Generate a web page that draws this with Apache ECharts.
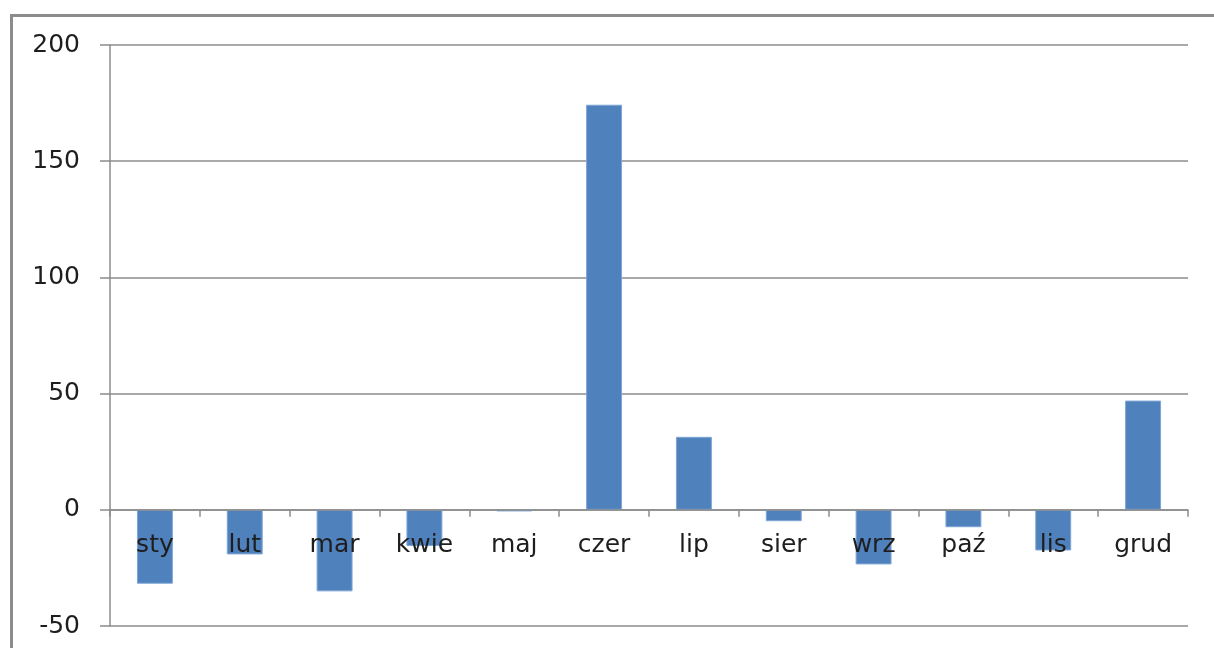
<!DOCTYPE html>
<html>
<head>
<meta charset="utf-8">
<script src="https://cdn.jsdelivr.net/npm/echarts@6/dist/echarts.min.js"></script>
<style>
html, body { margin: 0; padding: 0; background: #fff; overflow: hidden; }
#frame {
  position: absolute;
  left: 10px;
  top: 14px;
  width: 1230px;
  height: 700px;
  border: 3px solid #8c8c8c;
  box-sizing: border-box;
}
#myChart { position: absolute; left: 0; top: 0; width: 1214px; height: 648px; }
</style>
</head>
<body>
<div id="frame"></div>
<div id="myChart"></div>
<script>
// miesiace
const months = ['sty', 'lut', 'mar', 'kwie', 'maj', 'czer', 'lip', 'sier', 'wrz', 'paź', 'lis', 'grud']
// wartosci
const values = [-31.8, -19.2, -35.1, -15.6, -0.7, 174.3, 31.4, -4.9, -23.5, -7.5, -17.5, 47.0]
const yTicks = [-50, 0, 50, 100, 150, 200]

let myChart = echarts.init(document.getElementById('myChart'))
let lineColor = '#8c8c8c'
let labelFont = 'DejaVu Sans'
// os X lezy na zerze: 581 px na 250 jednostek, zero 115 px nad dolem
let gridHeight = 581
let zeroOffset = -gridHeight * (0 - yTicks[0]) / (yTicks[yTicks.length - 1] - yTicks[0])
let option = {
  animation: false,
  grid: { left: 110, right: 26, top: 45, bottom: 22, outerBoundsMode: 'none', containLabel: false },
  xAxis: {
    type: 'category',
    data: months,
    position: 'bottom',
    offset: zeroOffset,
    z: 10,
    axisLine: { onZero: false, lineStyle: { color: lineColor, width: 1.5 } },
    axisTick: { show: true, length: 7, alignWithLabel: false, lineStyle: { color: lineColor, width: 1.5 } },
    axisLabel: { margin: 23, fontSize: 25, color: '#1e1e1e', fontFamily: labelFont }
  },
  yAxis: {
    type: 'value',
    min: yTicks[0],
    max: yTicks[yTicks.length - 1],
    interval: 50,
    z: 0,
    axisLine: { show: true, lineStyle: { color: lineColor, width: 1.5 } },
    axisTick: { show: true, length: 10, lineStyle: { color: lineColor, width: 1.5 } },
    splitLine: { show: true, lineStyle: { color: lineColor, width: 1.5 } },
    axisLabel: { margin: 30, fontSize: 25, color: '#1e1e1e', fontFamily: labelFont }
  },
  series: [
    {
      type: 'bar',
      data: values,
      barWidth: '40%',
      z: 2,
      itemStyle: { color: '#4f81bd', borderColor: '#7ea6d6', borderWidth: 1 }
    }
  ]
}
myChart.setOption(option, true)
</script>
</body>
</html>
